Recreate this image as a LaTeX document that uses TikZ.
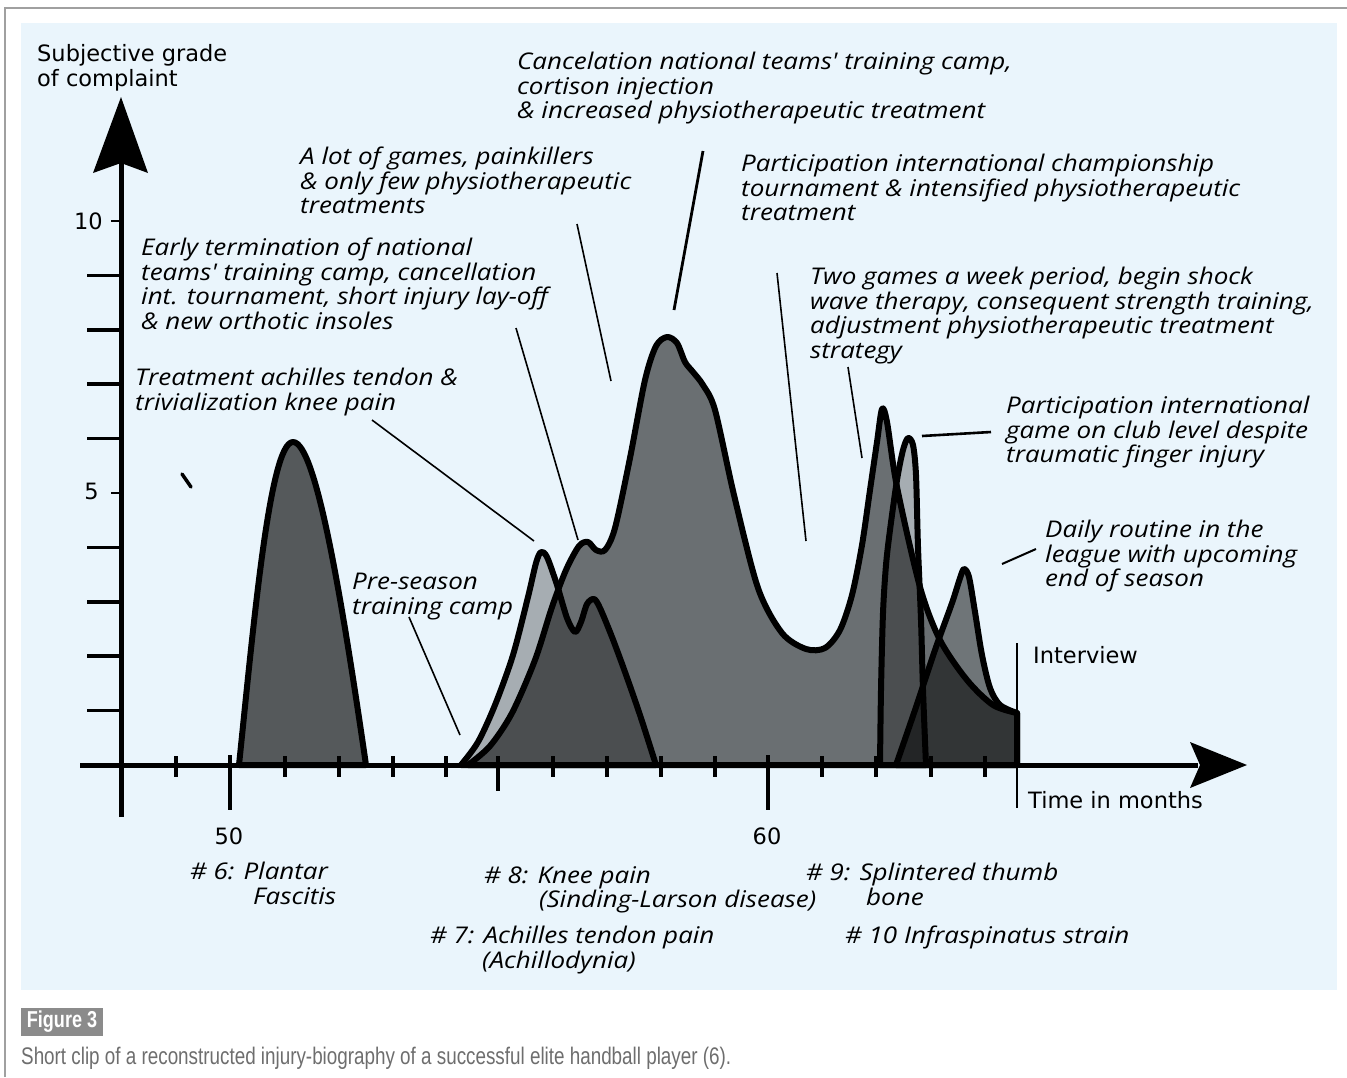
\documentclass[tikz,border=0pt]{standalone}
\usepackage{fontspec}
\newfontfamily\handfont{Open Sans}[FakeStretch=1.13]
\newfontfamily\labfont{DejaVu Sans}
\newfontfamily\capfont{Liberation Sans}[FakeStretch=0.785]
\definecolor{panel}{RGB}{234,245,252}
\definecolor{framegray}{RGB}{160,160,160}
\definecolor{figgray}{RGB}{139,139,139}
\definecolor{captxt}{RGB}{110,110,110}
\tikzset{
  hand/.style={font=\handfont\itshape\fontsize{23}{24.5}\selectfont, align=left, anchor=north west, inner sep=0pt},
  lab/.style={font=\labfont\fontsize{22.5}{25}\selectfont, inner sep=0pt},
  hump/.style={draw=black, line width=6pt, line join=round, fill=black},
  note/.style={draw=black, line width=1.6pt},
  axisline/.style={line width=5pt},
  smalltick/.style={line width=3.5pt},
  bigtick/.style={line width=4.5pt},
}
\begin{document}
\begin{tikzpicture}[x=1pt,y=-1pt]
\useasboundingbox (0,0) rectangle (1347,1077);
% frame and panel
\fill[white] (0,0) rectangle (1347,1077);
\draw[framegray, line width=1.5pt] (5,1077) -- (5,8) -- (1347,8);
\fill[panel] (21,23) rectangle (1337,990);

% ---- humps ----
% #6 plantar fascitis
\draw[hump, fill opacity=0.635] (239,765) .. controls (254,620) and (270,442) .. (293,442) .. controls (316,442) and (342,600) .. (366,765) -- cycle;
% #8 knee pain (big)
\draw[hump, fill opacity=0.545] plot[smooth] coordinates {(468,765) (490,746) (512,713) (535,660) (552,607) (566,570) (579,546) (588,542) (596,550) (605,550) (615,528) (630,458) (645,380) (656,346) (667,337) (677,343) (685,362) (693,372) (703,385) (715,410) (734,495) (758,588) (782,633) (806,649) (825,648) (840,630) (852,595) (862,545) (870,490) (877,442) (882,409) (887,422) (897,487) (920,587) (940,640) (967,680) (993,705) (1017,713)} -- (1017,765) -- cycle;
% #7 achilles tendon
\draw[hump, fill opacity=0.29] plot[smooth] coordinates {(461,765) (478,742) (495,705) (513,655) (528,597) (536,563) (541,552) (547,557) (557,585) (567,618) (575,632) (581,622) (587,604) (594,599) (600,608) (612,637) (625,672) (640,715) (656,765)} -- cycle;
% #9 splintered thumb
\draw[hump, fill opacity=0.29] plot[smooth] coordinates {(880,765) (881,690) (883,613) (886,565) (890,530) (897,480) (903,450) (908,438) (913,445) (916,475) (918,547) (921,620) (923,690) (926,765)} -- cycle;
% #10 infraspinatus strain
\draw[hump, fill opacity=0.52] plot[smooth] coordinates {(896,765) (915,710) (935,650) (952,603) (960,578) (964,569) (969,577) (975,612) (982,655) (990,688) (1000,705) (1017,713)} -- (1017,765) -- cycle;

% stray mark
\draw[line width=3.5pt, line cap=round] (182,474) -- (191,487);

% ---- axes ----
\draw[axisline] (121,817) -- (121,160);
\fill (121,97) -- (148,173) -- (121,163) -- (93,173) -- cycle;
\draw[axisline] (80,765) -- (1198,765);
\fill (1247,765) -- (1190,742) -- (1200,765) -- (1190,788) -- cycle;
% y ticks
\foreach \yy in {710.6,656.2,601.8,547.4,438.6,384.2,329.8,275.4} \draw[smalltick] (87,\yy) -- (121,\yy);
\foreach \yy in {493,221} \draw[line width=2pt] (111,\yy) -- (121,\yy);
% x ticks
\foreach \xx in {176,285,339,393,446,553,607,661,715,822,876,931,985} \draw[smalltick] (\xx,756) -- (\xx,777);
\draw[smalltick] (498,756) -- (498,791);
\draw[bigtick] (230,755) -- (230,810);
\draw[bigtick] (768,755) -- (768,810);
\draw[line width=2.5pt] (1017,643) -- (1017,808);

% axis labels
\node[lab, align=left, anchor=north west] (ylab) at (37,44) {Subjective grade\\of complaint};
\node[lab, anchor=east] (t10) at (103,221) {10};
\node[lab, anchor=east] (t5) at (99,491) {5};
\node[lab] (t50) at (229,836) {50};
\node[lab] (t60) at (767,836) {60};
\node[lab, anchor=west] (intv) at (1033,655) {Interview};
\node[lab, anchor=west] (time) at (1028,800) {Time in months};

% ---- annotations ----
\node[hand] (cancel) at (517,52) {Cancelation national teams' training camp,\\cortison injection\\\& increased physiotherapeutic treatment};
\node[hand] (games) at (300,147) {A lot of games, painkillers\\\& only few physiotherapeutic\\treatments};
\node[hand] (champ) at (741,154) {Participation international championship\\tournament \& intensified physiotherapeutic\\treatment};
\node[hand] (early) at (141,238) {Early termination of national\\teams' training camp, cancellation\\int. tournament, short injury lay-off\\\& new orthotic insoles};
\node[hand] (twog) at (810,267) {Two games a week period, begin shock\\wave therapy, consequent strength training,\\adjustment physiotherapeutic treatment\\strategy};
\node[hand] (treat) at (135,368) {Treatment achilles tendon \&\\trivialization knee pain};
\node[hand] (club) at (1006,396) {Participation international\\game on club level despite\\traumatic finger injury};
\node[hand] (daily) at (1045,520) {Daily routine in the\\league with upcoming\\end of season};
\node[hand] (pre) at (352,573) {Pre-season\\training camp};
% injury labels
\node[hand] (i6) at (190,862) {\# 6: Plantar\\\hspace*{63pt}Fascitis};
\node[hand] (i8) at (484,866) {\# 8: Knee pain\\\hspace*{55pt}(Sinding-Larson disease)};
\node[hand] (i9) at (806,863) {\# 9: Splintered thumb\\\hspace*{60pt}bone};
\node[hand] (i7) at (430,926) {\# 7: Achilles tendon pain\\\hspace*{52pt}(Achillodynia)};
\node[hand] (i10) at (845,926) {\# 10 Infraspinatus strain};

% connector end points
\coordinate (treatA) at (372,420);  \coordinate (treatB) at (534,541);
\coordinate (earlyA) at (516,328);  \coordinate (earlyB) at (578,540);
\coordinate (gamesA) at (577,224);  \coordinate (gamesB) at (611,381);
\coordinate (cancelA) at (703,151); \coordinate (cancelB) at (674,310);
\coordinate (champA) at (777,273);  \coordinate (champB) at (806,541);
\coordinate (twogA) at (848,367);   \coordinate (twogB) at (862,458);
\coordinate (clubA) at (991,432);   \coordinate (clubB) at (922,436);
\coordinate (dailyA) at (1036,549); \coordinate (dailyB) at (1002,564);
\coordinate (preA) at (409,617);    \coordinate (preB) at (460,735);
\draw[note] (treatA) -- (treatB);
\draw[note] (earlyA) -- (earlyB);
\draw[note] (gamesA) -- (gamesB);
\draw[note, line width=2.8pt] (cancelA) -- (cancelB);
\draw[note] (champA) -- (champB);
\draw[note] (twogA) -- (twogB);
\draw[note, line width=2.6pt] (clubA) -- (clubB);
\draw[note, line width=2pt] (dailyA) -- (dailyB);
\draw[note] (preA) -- (preB);

% ---- caption ----
\node[fill=figgray, text=white, font=\capfont\bfseries\fontsize{23}{25}\selectfont, minimum width=82pt, minimum height=28pt, inner sep=0pt] (fig) at (62,1022) {Figure 3};
\node[font=\capfont\fontsize{24}{26}\selectfont, text=captxt, anchor=west, inner sep=0pt] (cap) at (21,1058) {Short clip of a reconstructed injury-biography of a successful elite handball player (6).};
\end{tikzpicture}
\end{document}
